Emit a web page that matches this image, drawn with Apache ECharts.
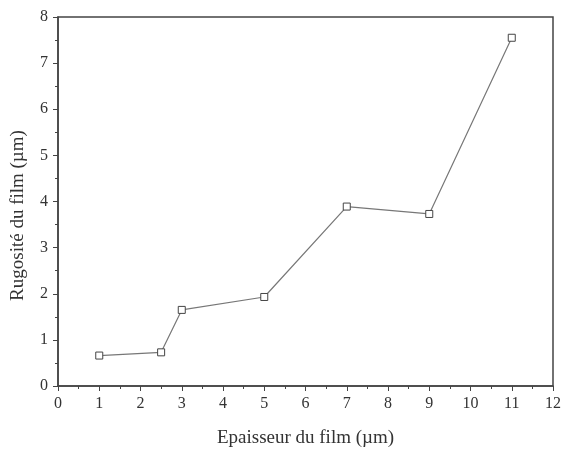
<!DOCTYPE html>
<html>
<head>
<meta charset="utf-8">
<script src="https://cdn.jsdelivr.net/npm/echarts@6/dist/echarts.min.js"></script>
<style>
  html, body { margin: 0; padding: 0; background: #fff; }
  #chart { width: 564px; height: 453px; }
</style>
</head>
<body>
<div id="chart"></div>
<script>
// épaisseur du film (µm) et rugosité (µm)
var epaisseur = [1, 2.5, 3, 5, 7, 9, 11];
var rugosite = [0.66, 0.73, 1.65, 1.93, 3.89, 3.73, 7.55];

var xTitre = 'Epaisseur du film (µm)';
var yTitre = 'Rugosité du film (µm)';

var police = 'Liberation Serif';
var encre = '#333';

var points = [];
for (var i = 0; i < epaisseur.length; i++) {
	points.push([epaisseur[i], rugosite[i]]);
}

var myChart = echarts.init(document.getElementById('chart'));

var option = {
	backgroundColor: '#fff',
	animation: false,
	grid: {
		left: 58, right: 10, top: 17, bottom: 66,
		show: true,
		borderColor: '#444',
		borderWidth: 1.5
	},
	xAxis: {
		type: 'value',
		min: 0, max: 12, interval: 1,
		name: xTitre,
		nameLocation: 'middle',
		nameGap: 43,
		nameTextStyle: { fontFamily: police, fontSize: 19, color: encre },
		axisLine: { lineStyle: { color: '#444', width: 1.5 } },
		axisTick: { inside: false, length: 5, lineStyle: { color: '#444' } },
		minorTick: { show: true, splitNumber: 2, length: 3, lineStyle: { color: '#444' } },
		axisLabel: { fontFamily: police, fontSize: 16, color: encre, margin: 10 },
		splitLine: { show: false }
	},
	yAxis: {
		type: 'value',
		min: 0, max: 8, interval: 1,
		name: yTitre,
		nameLocation: 'middle',
		nameGap: 30,
		nameTextStyle: { fontFamily: police, fontSize: 19, color: encre, padding: [0, 28, 0, 0] },
		axisLine: { show: true, lineStyle: { color: '#444', width: 1.5 } },
		axisTick: { show: true, inside: false, length: 5, lineStyle: { color: '#444' } },
		minorTick: { show: true, splitNumber: 2, length: 3, lineStyle: { color: '#444' } },
		axisLabel: { fontFamily: police, fontSize: 16, color: encre, margin: 10 },
		splitLine: { show: false }
	},
	series: [
		{
			type: 'line',
			data: points,
			symbol: 'rect',
			symbolSize: 7,
			lineStyle: { color: '#777', width: 1.2 },
			itemStyle: { color: '#fff', borderColor: '#444', borderWidth: 1 }
		}
	]
};

myChart.setOption(option);
</script>
</body>
</html>
